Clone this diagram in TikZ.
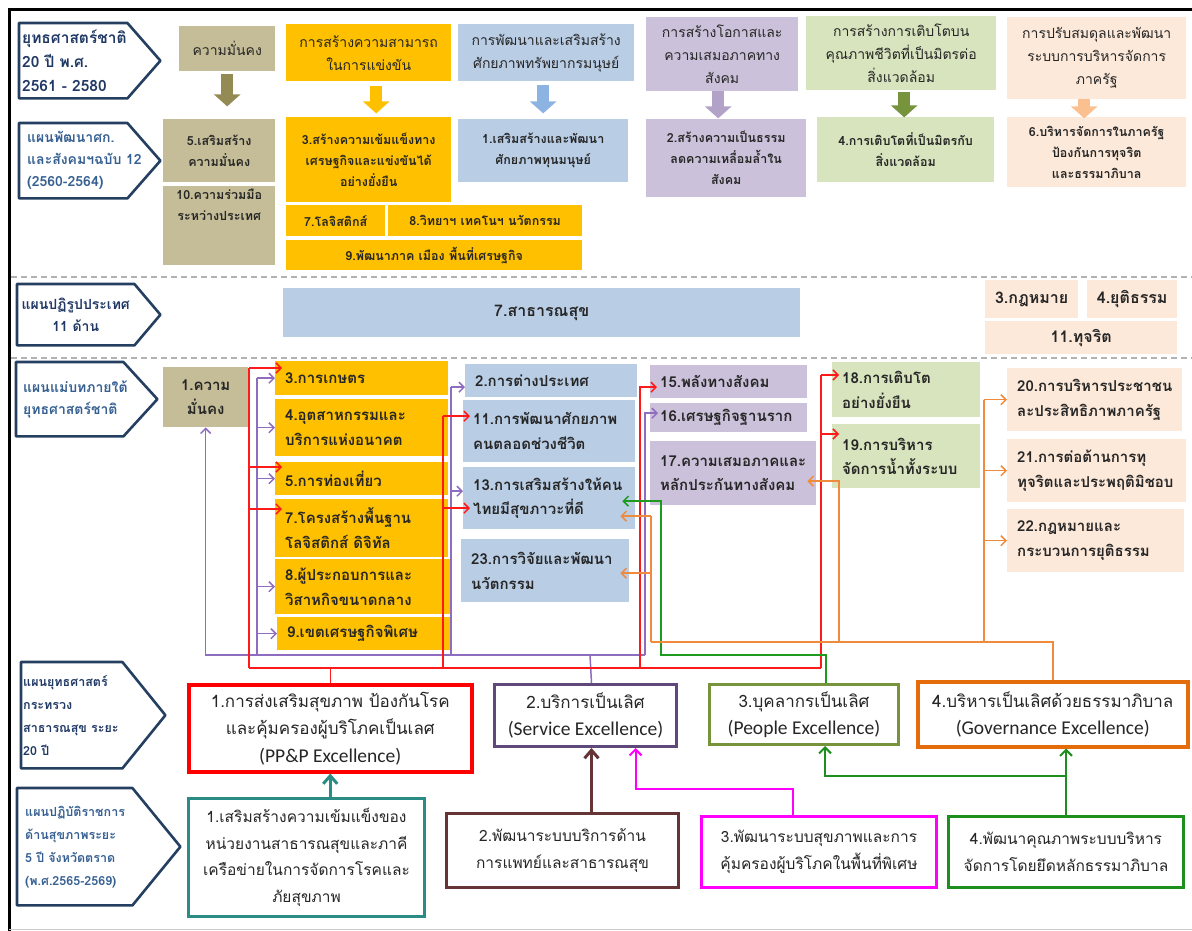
\documentclass[tikz,border=0pt]{standalone}
\usepackage{fontspec}
\setmainfont[Script=Thai]{Loma}
\newfontfamily\latinfont{Carlito}
\usetikzlibrary{arrows.meta}

\definecolor{tanfill}{HTML}{C4BD97}
\definecolor{tanarrow}{HTML}{948A54}
\definecolor{goldfill}{HTML}{FFC000}
\definecolor{bluefill}{HTML}{B9CDE5}
\definecolor{bluearrow}{HTML}{8DB3E2}
\definecolor{lavfill}{HTML}{CCC1DA}
\definecolor{lavarrow}{HTML}{B3A2C7}
\definecolor{leaffill}{HTML}{D7E4BD}
\definecolor{leafarrow}{HTML}{77933C}
\definecolor{peachfill}{HTML}{FDE9D9}
\definecolor{peacharrow}{HTML}{FAC090}
\definecolor{planblue}{HTML}{243F60}
\definecolor{plantext}{HTML}{1F3864}
\definecolor{plantext2}{HTML}{366092}
\definecolor{ink}{HTML}{262626}
\definecolor{linkpurple}{HTML}{8E6CC0}
\definecolor{linkred}{HTML}{FF1A1A}
\definecolor{linkgreen}{HTML}{1E9A1E}
\definecolor{linkorange}{HTML}{F08A3C}
\definecolor{boxred}{HTML}{FF0000}
\definecolor{boxpurple}{HTML}{5F497A}
\definecolor{boxolive}{HTML}{77933C}
\definecolor{boxorange}{HTML}{E46C0A}
\definecolor{boxteal}{HTML}{2B8C86}
\definecolor{boxbrown}{HTML}{653434}
\definecolor{boxmagenta}{HTML}{FF00FF}
\definecolor{boxgreen}{HTML}{1E8E1E}

\begin{document}
\begin{tikzpicture}
  [x=1pt,y=-1pt,
  cell/.style={anchor=north west,inner sep=0pt,align=center,text=ink},
  tanbox/.style={cell,fill=tanfill},
  goldbox/.style={cell,fill=goldfill},
  bluebox/.style={cell,fill=bluefill},
  lavbox/.style={cell,fill=lavfill},
  leafbox/.style={cell,fill=leaffill},
  peachbox/.style={cell,fill=peachfill},
  goal/.style={cell,line width=3pt,fill=white},
  plan/.style={anchor=north west,inner xsep=3pt,inner ysep=0pt,align=left,text=plantext,
    font=\bfseries\fontsize{14}{22}\selectfont},
  planline/.style={draw=planblue,line width=2.6pt,line join=round},
  strat/.style={font=\fontsize{14}{23}\selectfont},
  nesdp/.style={font=\bfseries\fontsize{12.5}{21}\selectfont},
  reform/.style={font=\bfseries\fontsize{16}{20}\selectfont},
  master/.style={font=\bfseries\fontsize{15}{24.5}\selectfont,align=left,inner xsep=10pt},
  moph/.style={font=\fontsize{17}{27.5}\selectfont},
  trat/.style={font=\fontsize{15.5}{26.5}\selectfont},
  bigarrow/.style={line width=12pt,-{Triangle[width=26pt,length=12pt]}},
  divider/.style={draw=gray!60,line width=1.2pt,dash pattern=on 6pt off 4pt},
  >={Straight Barb[length=5pt,width=10pt]},
  plink/.style={draw=linkpurple,line width=1.5pt},
  rlink/.style={draw=linkred,line width=1.5pt},
  glink/.style={draw=linkgreen,line width=1.5pt},
  olink/.style={draw=linkorange,line width=1.5pt},
  tlink/.style={draw=boxteal,line width=3pt,-{Straight Barb[length=8pt,width=14pt]}},
  brlink/.style={draw=boxbrown,line width=3pt,-{Straight Barb[length=8pt,width=14pt]}},
  mlink/.style={draw=boxmagenta,line width=2pt,-{Straight Barb[length=6pt,width=12pt]}},
  gblink/.style={draw=boxgreen,line width=2pt,-{Straight Barb[length=6pt,width=12pt]}}]

  \useasboundingbox (0,0) rectangle (1192,931);
  \draw[line width=3pt] (9,931) -- (9,10) -- (1192,10);
  \draw[gray!40,line width=1pt] (9,929) -- (1192,929);
  \draw[divider] (11,277) -- (1192,277);
  \draw[divider] (11,358) -- (1192,358);

  % plan labels
  \node (pl1) [plan,font=\bfseries\fontsize{15.5}{24}\selectfont,minimum width=108,text width=102pt,minimum height=75] at (19,23) {ยุทธศาสตร์ชาติ\\20 ปี พ.ศ.\\2561 - 2580};
  \node (pl2) [plan,text=plantext2,inner xsep=8pt,minimum width=108,text width=92pt,minimum height=75] at (19,123) {แผนพัฒนาศก.\\และสังคมฯฉบับ~12\\(2560-2564)};
  \node (pl3) [plan,align=center,minimum width=117,text width=111pt,minimum height=61] at (17,284) {แผนปฏิรูปประเทศ\\11 ด้าน};
  \node (pl4) [plan,text=plantext2,inner xsep=7pt,minimum width=107,text width=93pt,minimum height=74] at (16,362) {แผนแม่บทภายใต้\\ยุทธศาสตร์ชาติ};
  \node (pl5) [plan,font=\bfseries\fontsize{12.5}{23}\selectfont,inner xsep=2pt,minimum width=101,text width=97pt,minimum height=106] at (21,662) {แผนยุทธศาสตร์\\กระทรวง\\สาธารณสุข~ระยะ\\20 ปี};
  \node (pl6) [plan,text=plantext2,font=\bfseries\fontsize{12.5}{23}\selectfont,inner xsep=8pt,minimum width=115,text width=99pt,minimum height=117] at (17,788) {แผนปฏิบัติราชการ\\ด้านสุขภาพระยะ\\5 ปี~จังหวัดตราด\\(พ.ศ.2565-2569)};
  \foreach \p/\d in {pl1/33,pl2/33,pl3/26,pl4/34,pl5/43,pl6/48}
    \draw[planline] (\p.north west) -- (\p.north east) -- ([xshift=\d]\p.east) -- (\p.south east) -- (\p.south west) -- cycle;

  % national strategy
  \node (s1) [tanbox,strat,minimum width=96,minimum height=45] at (179,26) {ความมั่นคง};
  \node (s2) [goldbox,strat,minimum width=165,minimum height=57] at (286,24) {การสร้างความสามารถ\\ในการแข่งขัน};
  \node (s3) [bluebox,strat,minimum width=176,minimum height=57] at (458,24) {การพัฒนาและเสริมสร้าง\\ศักยภาพทรัพยากรมนุษย์};
  \node (s4) [lavbox,strat,minimum width=152,minimum height=74] at (646,17) {การสร้างโอกาสและ\\ความเสมอภาคทาง\\สังคม};
  \node (s5) [leafbox,strat,minimum width=190,minimum height=74] at (806,16) {การสร้างการเติบโตบน\\คุณภาพชีวิตที่เป็นมิตรต่อ\\สิ่งแวดล้อม};
  \node (s6) [peachbox,strat,minimum width=179,minimum height=82] at (1007,17) {การปรับสมดุลและพัฒนา\\ระบบการบริหารจัดการ\\ภาครัฐ};

  % NESDP 12
  \node (n5) [tanbox,nesdp,minimum width=112,minimum height=63] at (163,119) {5.เสริมสร้าง\\ความมั่นคง};
  \node (n10) [tanbox,nesdp,minimum width=112,minimum height=79] at (163,186) {\parbox[c][74pt][t]{110pt}{\centering 10.ความร่วมมือ\\ระหว่างประเทศ}};
  \node (n3) [goldbox,nesdp,minimum width=165,minimum height=85] at (286,117) {3.สร้างความเข้มแข็งทาง\\เศรษฐกิจและแข่งขันได้\\อย่างยั่งยืน};
  \node (n7) [goldbox,nesdp,minimum width=99,minimum height=31] at (286,205) {7.โลจิสติกส์};
  \node (n8) [goldbox,nesdp,minimum width=194,minimum height=31] at (388,205) {8.วิทยาฯ เทคโนฯ นวัตกรรม};
  \node (n9) [goldbox,nesdp,minimum width=296,minimum height=30] at (286,240) {9.พัฒนาภาค เมือง พื้นที่เศรษฐกิจ};
  \node (n1) [bluebox,nesdp,minimum width=170,minimum height=63] at (458,119) {1.เสริมสร้างและพัฒนา\\ศักยภาพทุนมนุษย์};
  \node (n2) [lavbox,nesdp,minimum width=160,minimum height=78] at (646,119) {2.สร้างความเป็นธรรม\\ลดความเหลื่อมล้ำใน\\สังคม};
  \node (n4) [leafbox,nesdp,minimum width=177,minimum height=65] at (817,117) {4.การเติบโตที่เป็นมิตรกับ\\สิ่งแวดล้อม};
  \node (n6) [peachbox,nesdp,minimum width=179,minimum height=70] at (1007,117) {6.บริหารจัดการในภาครัฐ\\ป้องกันการทุจริต\\และธรรมาภิบาล};

  \draw[bigarrow,draw=tanarrow] ([yshift=-3pt]s1.south) -- ([yshift=-35pt]s1.south);
  \draw[bigarrow,draw=goldfill] ([xshift=7.5pt,yshift=-5pt]s2.south) -- ([xshift=7.5pt,yshift=-32pt]s2.south);
  \draw[bigarrow,draw=bluearrow] ([xshift=-3pt,yshift=-4pt]s3.south) -- ([xshift=-3pt,yshift=-32pt]s3.south);
  \draw[bigarrow,draw=lavarrow] ([xshift=-4pt]s4.south) -- ([xshift=-4pt,yshift=-27pt]s4.south);
  \draw[bigarrow,draw=leafarrow] ([xshift=3pt,yshift=-2pt]s5.south) -- ([xshift=3pt,yshift=-27pt]s5.south);
  \draw[bigarrow,draw=peacharrow] ([xshift=-12.5pt]s6.south) -- ([xshift=-12.5pt,yshift=-19pt]s6.south);

  % reform plan
  \node (f7) [bluebox,reform,minimum width=517,minimum height=49] at (283,288) {7.สาธารณสุข};
  \node (f3) [peachbox,reform,minimum width=93,minimum height=38] at (985,280) {3.กฎหมาย};
  \node (f4) [peachbox,reform,minimum width=90,minimum height=38] at (1087,280) {4.ยุติธรรม};
  \node (f11) [peachbox,reform,minimum width=192,minimum height=33] at (985,321) {11.ทุจริต};

  % master plans
  \node (m1) [tanbox,master,align=center,minimum width=85,minimum height=60] at (163,367) {1.ความ\\มั่นคง};
  \node (y3) [goldbox,master,text width=153pt,minimum height=34] at (275,361) {3.การเกษตร};
  \node (y4) [goldbox,master,text width=153pt,minimum height=57] at (275,399) {4.อุตสาหกรรมและ\\บริการแห่งอนาคต};
  \node (y5) [goldbox,master,text width=153pt,minimum height=33] at (275,462) {5.การท่องเที่ยว};
  \node (y7) [goldbox,master,text width=153pt,minimum height=58] at (275,499) {7.โครงสร้างพื้นฐาน\\โลจิสติกส์ ดิจิทัล};
  \node (y8) [goldbox,master,text width=155pt,minimum height=55] at (275,559) {8.ผู้ประกอบการและ\\วิสาหกิจขนาดกลาง};
  \node (y9) [goldbox,master,text width=153pt,minimum height=33] at (277,617) {9.เขตเศรษฐกิจพิเศษ};
  \node (b2) [bluebox,master,text width=152pt,minimum height=33] at (465,364) {2.การต่างประเทศ};
  \node (b11) [bluebox,master,text width=152pt,minimum height=62] at (463,400) {11.การพัฒนาศักยภาพ\\คนตลอดช่วงชีวิต};
  \node (b13) [bluebox,master,text width=152pt,minimum height=62] at (463,467) {13.การเสริมสร้างให้คน\\ไทยมีสุขภาวะที่ดี};
  \node (b23) [bluebox,master,text width=148pt,minimum height=63] at (461,539) {23.การวิจัยและพัฒนา\\นวัตกรรม};
  \node (l15) [lavbox,master,text width=137pt,minimum height=33] at (650,365) {15.พลังทางสังคม};
  \node (l16) [lavbox,master,text width=137pt,minimum height=29] at (650,403) {16.เศรษฐกิจฐานราก};
  \node (l17) [lavbox,master,text width=146pt,minimum height=64] at (650,441) {17.ความเสมอภาคและ\\หลักประกันทางสังคม};
  \node (e18) [leafbox,master,text width=128pt,minimum height=55] at (832,362) {18.การเติบโต\\อย่างยั่งยืน};
  \node (e19) [leafbox,master,text width=128pt,minimum height=64] at (832,424) {19.การบริหาร\\จัดการน้ำทั้งระบบ};
  \node (q20) [peachbox,master,text width=155pt,minimum height=63] at (1007,368) {20.การบริหารประชาชน\\ละประสิทธิภาพภาครัฐ};
  \node (q21) [peachbox,master,text width=159pt,minimum height=63] at (1007,439) {21.การต่อต้านการทุ\\ทุจริตและประพฤติมิชอบ};
  \node (q22) [peachbox,master,text width=157pt,minimum height=63] at (1007,509) {22.กฎหมายและ\\กระบวนการยุติธรรม};

  % ministry 20-year strategy
  \node (g1) [goal,moph,draw=boxred,line width=3.5pt,minimum width=283,minimum height=87] at (187,683) {1.การส่งเสริมสุขภาพ ป้องกันโรค\\และคุ้มครองผู้บริโภคเป็นเลศ\\{\latinfont\fontsize{19.5}{27.5}\selectfont (PP\&P Excellence)}};
  \node (g2) [goal,moph,draw=boxpurple,minimum width=182,minimum height=62] at (493,683) {2.บริการเป็นเลิศ\\{\latinfont\fontsize{19.5}{27.5}\selectfont (Service Excellence)}};
  \node (g3) [goal,moph,draw=boxolive,minimum width=189,minimum height=60] at (708,683) {3.บุคลากรเป็นเลิศ\\{\latinfont\fontsize{19.5}{27.5}\selectfont (People Excellence)}};
  \node (g4) [goal,moph,draw=boxorange,line width=3.5pt,minimum width=270,minimum height=65] at (916,680) {4.บริหารเป็นเลิศด้วยธรรมาภิบาล\\{\latinfont\fontsize{19.5}{27.5}\selectfont (Governance Excellence)}};

  % provincial action plan
  \node (a1) [goal,trat,draw=boxteal,minimum width=236,minimum height=118] at (187,797) {1.เสริมสร้างความเข้มแข็งของ\\หน่วยงานสาธารณสุขและภาคี\\เครือข่ายในการจัดการโรคและ\\ภัยสุขภาพ};
  \node (a2) [goal,trat,draw=boxbrown,minimum width=232,minimum height=74] at (445,812) {2.พัฒนาระบบบริการด้าน\\การแพทย์และสาธารณสุข};
  \node (a3) [goal,trat,draw=boxmagenta,minimum width=235,minimum height=71] at (700,815) {3.พัฒนาระบบสุขภาพและการ\\คุ้มครองผู้บริโภคในพื้นที่พิเศษ};
  \node (a4) [goal,trat,draw=boxgreen,minimum width=235,minimum height=71] at (947,815) {4.พัฒนาคุณภาพระบบบริหาร\\จัดการโดยยึดหลักธรรมาภิบาล};

  % purple links
  \coordinate (pj0) at (590,655);
  \coordinate (pj1) at (257,655);
  \coordinate (pj2) at (451,655);
  \coordinate (pj3) at (645,655);
  \coordinate (b2p) at ([yshift=-6.5pt]b2.west);
  \coordinate (b13p) at ([yshift=7pt]b13.west);
  \coordinate (l16p) at ([yshift=4.5pt]l16.west);
  \draw[plink] ([xshift=6pt]g2.north) -- (pj0);
  \draw[plink,->] (pj3) -- (m1.south |- pj3) -- (m1.south);
  \draw[plink] (pj1) -- (pj1 |- y3.west);
  \foreach \t in {y3,y4,y5,y8,y9}
    \draw[plink,->] (pj1 |- \t.west) -- (\t.west);
  \draw[plink] (pj2) -- (pj2 |- b2p);
  \foreach \t in {b2p,b13p}
    \draw[plink,->] (pj2 |- \t) -- (\t);
  \draw[plink,->,shorten >=-8pt] (pj3) |- (l16p);

  % red links
  \coordinate (rj0) at (249,668);
  \coordinate (rj1) at (443,668);
  \coordinate (rj2) at (640,668);
  \coordinate (rj3) at (821,668);
  \coordinate (y3r) at ([yshift=-7pt]y3.north west);
  \coordinate (y5r) at ([yshift=-5pt]y5.north west);
  \coordinate (y7r) at ([yshift=-10pt]y7.north west);
  \coordinate (b11r) at ([yshift=15pt]b11.west);
  \coordinate (b13r) at ([yshift=-10pt]b13.west);
  \coordinate (l15r) at ([yshift=-5.5pt]l15.west);
  \coordinate (e18r) at ([yshift=-13pt]e18.north west);
  \coordinate (e19r) at ([yshift=-10pt]e19.north west);
  \draw[rlink] (g1.north) -- (g1.north |- rj0);
  \draw[rlink] (rj0) -- (rj3);
  \draw[rlink] (rj0) -- (rj0 |- y3r);
  \draw[rlink] (rj1) -- (rj1 |- b11r);
  \draw[rlink] (rj3) -- (rj3 |- e18r);
  \foreach \j/\t in {rj0/y3r,rj0/y5r,rj0/y7r,rj1/b11r,rj1/b13r,rj3/e18r,rj3/e19r}
    \draw[rlink,->,shorten >=-7pt] (\j |- \t) -- (\t);
  \draw[rlink,->,shorten >=-7pt] (rj2) |- (l15r);

  % green link
  \coordinate (gj) at (661,655);
  \coordinate (b13g) at ([yshift=-3pt]b13.east);
  \draw[glink,->,shorten >=-13pt] ([xshift=22pt]g3.north) |- (gj) |- (b13g);

  % orange links
  \coordinate (oj0) at (651,642);
  \coordinate (oj1) at (839,642);
  \coordinate (oj2) at (984,642);
  \coordinate (b13o) at ([yshift=-18pt]b13.east);
  \coordinate (b23o) at ([yshift=-2.5pt]b23.east);
  \coordinate (l17o) at ([yshift=-8pt]l17.east);
  \draw[olink] (g4.north) |- (oj0);
  \draw[olink] (oj0) -- (oj0 |- b13o);
  \draw[olink,->,shorten >=-15pt] (oj0 |- b13o) -- (b13o);
  \draw[olink,->,shorten >=-9pt] (oj0 |- b23o) -- (b23o);
  \draw[olink,->,shorten >=-9pt] (oj1) |- (l17o);
  \draw[olink] (oj2) -- (oj2 |- q20.west);
  \foreach \t in {q20,q21,q22}
    \draw[olink,->] (oj2 |- \t.west) -- (\t.west);

  % action plan to strategy
  \coordinate (g2b) at ([xshift=6pt]g2.south);
  \coordinate (g2m) at ([xshift=50pt]g2.south);
  \coordinate (a3m) at ([xshift=-26.5pt]a3.north);
  \coordinate (g3g) at ([xshift=21pt]g3.south);
  \draw[tlink] (g1.south |- a1.north) -- (g1.south);
  \draw[brlink] (g2b |- a2.north) -- (g2b);
  \draw[mlink] (a3m) -- ++(0,-26) -| (g2m);
  \draw[gblink] (a4.north) -- (a4.north |- g4.south);
  \draw[gblink] (a4.north |- 0,776) -| (g3g);
\end{tikzpicture}
\end{document}
